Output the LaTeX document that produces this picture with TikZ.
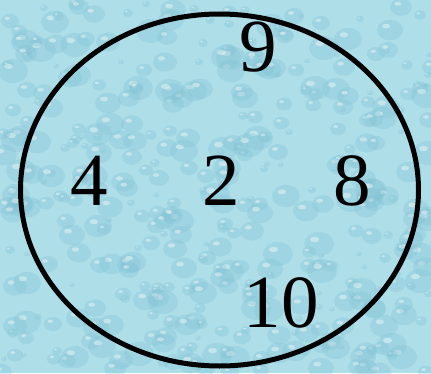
\documentclass[tikz,border=0pt]{standalone}
\usepackage{fontspec}
\setmainfont{Liberation Serif}
\usetikzlibrary{shapes.geometric}
\definecolor{water}{HTML}{AEDFE9}
\definecolor{waterdark}{HTML}{7FC0D2}
\begin{document}
\begin{tikzpicture}[x=1pt,y=1pt,
  numlabel/.style={anchor=base,inner sep=0pt,font=\fontsize{75}{80}\selectfont}]
\fill[water] (0,0) rectangle (431,373);
\useasboundingbox (0,0) rectangle (431,373);
\pgfmathsetseed{7}
\foreach \i in {1,...,420}{
  \pgfmathsetmacro{\px}{random(0,431)}
  \pgfmathsetmacro{\py}{random(0,373)}
  \pgfmathsetmacro{\rr}{random(3,15)}
  \fill[waterdark,opacity=0.3] (\px,\py) ellipse ({\rr} and {0.8*\rr});
  \fill[white,opacity=0.4] (\px-0.3*\rr,\py+0.3*\rr) ellipse ({0.3*\rr} and {0.18*\rr});
}
\node[draw=black,line width=5pt,ellipse,minimum width=398pt,minimum height=352pt,inner sep=0pt] (set) at (219.5,183) {};
\node[numlabel] (n9) at (258,301) {9};
\node[numlabel] (n4) at (89,168) {4};
\node[numlabel] (n2) at (221,168) {2};
\node[numlabel] (n8) at (352,168) {8};
\node[numlabel] (n10) at (281,46) {10};
\end{tikzpicture}
\end{document}
